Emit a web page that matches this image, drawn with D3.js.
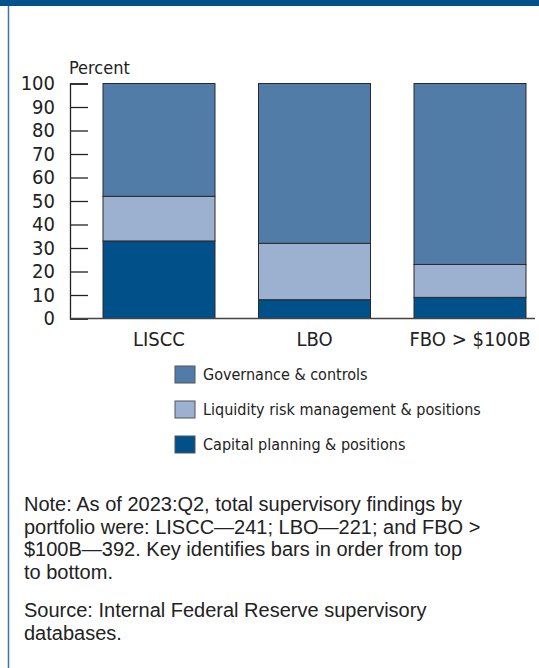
<!DOCTYPE html>
<html>
<head>
<meta charset="utf-8">
<script src="https://cdn.jsdelivr.net/npm/d3@7"></script>
<style>
  body { margin: 0; background: #fff; }
  svg { display: block; }
</style>
</head>
<body>
<div id="chart"></div>
<script>
const portfolios = ["LISCC", "LBO", "FBO > $100B"]
const seriesNames = ["Capital planning & positions", "Liquidity risk management & positions", "Governance & controls"]
const capital = [33, 8, 9]
const liquidity = [19, 24, 14]
const governance = [48, 68, 77]
const yTicks = [0, 10, 20, 30, 40, 50, 60, 70, 80, 90, 100]
const colors = ["#02508a", "#9cb1d0", "#517ca8"]
const noteLines = [
  "Note: As of 2023:Q2, total supervisory findings by",
  "portfolio were: LISCC\u2014241; LBO\u2014221; and FBO >",
  "$100B\u2014392. Key identifies bars in order from top",
  "to bottom."
]
const sourceLines = ["Source: Internal Federal Reserve supervisory", "databases."]

const W = 539, H = 668
const narrow = "'Liberation Sans Narrow', 'DejaVu Sans Condensed', 'Liberation Sans', sans-serif"
const sans = "'Liberation Sans', Arial, sans-serif"

const svg = d3.select("#chart").append("svg").attr("width", W).attr("height", H)

// frame
svg.append("rect").attr("x", 0).attr("y", 0).attr("width", W).attr("height", 6).attr("fill", "#02538b")
svg.append("line").attr("x1", 8.5).attr("x2", 8.5).attr("y1", 6).attr("y2", H)
  .attr("stroke", "#3f74ab").attr("stroke-width", 1.5)

const x = d3.scaleBand().domain(portfolios).range([81.25, 547.75]).padding(0)
const y = d3.scaleLinear().domain([0, 100]).range([318.5, 83.5])

const rows = portfolios.map((p, i) => ({ p, capital: capital[i], liquidity: liquidity[i], governance: governance[i] }))
const stack = d3.stack().keys(["capital", "liquidity", "governance"])(rows)

const bw = 112
svg.append("g").selectAll("g")
  .data(stack)
  .join("g")
    .attr("fill", (d, i) => colors[i])
  .selectAll("rect")
  .data(d => d)
  .join("rect")
    .attr("x", d => x(d.data.p) + x.bandwidth() / 2 - bw / 2)
    .attr("width", bw)
    .attr("y", d => y(d[1]))
    .attr("height", d => y(d[0]) - y(d[1]))
    .attr("stroke", "#2a2a2a")
    .attr("stroke-width", 1)

// y axis
const yAxis = d3.axisRight(y).tickValues(yTicks).tickSize(18).tickFormat("")
const ga = svg.append("g").attr("transform", "translate(70,0)").call(yAxis)
ga.select(".domain").attr("stroke", "#222").attr("stroke-width", 1.3)
ga.selectAll(".tick line").attr("stroke", "#222").attr("stroke-width", 1.3)

svg.append("g").selectAll("text")
  .data(yTicks)
  .join("text")
    .attr("x", 55)
    .attr("y", d => y(d) + 6.5)
    .attr("text-anchor", "end")
    .attr("font-family", narrow)
    .attr("font-size", 20)
    .attr("fill", "#222")
    .text(d => d)

svg.append("text").attr("x", 69).attr("y", 74)
  .attr("font-family", narrow).attr("font-size", 18).attr("fill", "#222").text("Percent")

// baseline
svg.append("line").attr("x1", 70).attr("x2", 535).attr("y1", y(0)).attr("y2", y(0))
  .attr("stroke", "#444").attr("stroke-width", 1.3)

svg.append("g").selectAll("text")
  .data(portfolios)
  .join("text")
    .attr("x", d => x(d) + x.bandwidth() / 2)
    .attr("y", 346)
    .attr("text-anchor", "middle")
    .attr("font-family", narrow)
    .attr("font-size", 20)
    .attr("fill", "#222")
    .text(d => d)

// legend, top to bottom
const legendOrder = [2, 1, 0]
const lg = svg.append("g").selectAll("g")
  .data(legendOrder)
  .join("g")
    .attr("transform", (d, i) => `translate(175,${366 + i * 35})`)
lg.append("rect").attr("width", 20).attr("height", 17)
  .attr("fill", d => colors[d]).attr("stroke", "#555").attr("stroke-width", 1)
lg.append("text").attr("x", 28).attr("y", 14)
  .attr("font-family", narrow).attr("font-size", 16).attr("fill", "#222")
  .text(d => seriesNames[d])

// notes
svg.append("g").selectAll("text")
  .data(noteLines)
  .join("text")
    .attr("x", 24)
    .attr("y", (d, i) => 511 + i * 22.7)
    .attr("font-family", sans)
    .attr("font-size", 20)
    .attr("fill", "#222")
    .text(d => d)

svg.append("g").selectAll("text")
  .data(sourceLines)
  .join("text")
    .attr("x", 24)
    .attr("y", (d, i) => 617 + i * 22.7)
    .attr("font-family", sans)
    .attr("font-size", 20)
    .attr("fill", "#222")
    .text(d => d)
</script>
</body>
</html>
